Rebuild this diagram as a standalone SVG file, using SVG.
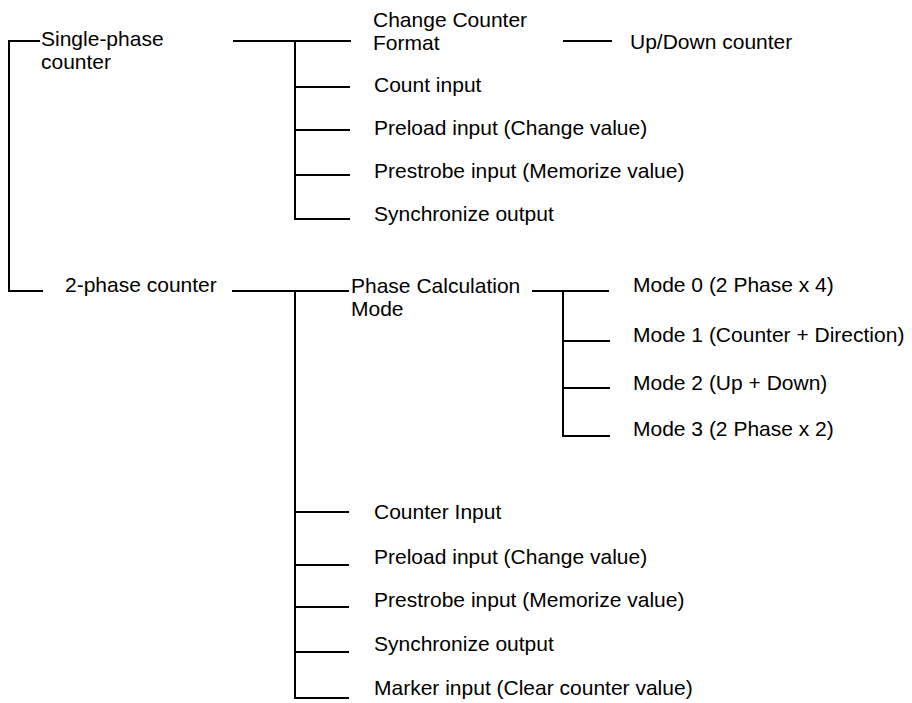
<svg xmlns="http://www.w3.org/2000/svg" width="912" height="703" viewBox="0 0 912 703">
<style>
.t{font-family:"Liberation Sans",Arial,sans-serif;font-size:21px;fill:#000}
.c line{stroke:#000;stroke-width:2;fill:none}
</style>
<rect width="912" height="703" fill="#fff"/>
<g class="c" id="connectors">
<line x1="9" y1="40" x2="9" y2="292"/>
<line x1="8" y1="41" x2="40" y2="41"/>
<line x1="8" y1="291" x2="43" y2="291"/>
<line x1="233" y1="41" x2="351" y2="41"/>
<line x1="295" y1="40" x2="295" y2="220"/>
<line x1="295" y1="87" x2="350" y2="87"/>
<line x1="295" y1="130" x2="350" y2="130"/>
<line x1="295" y1="175" x2="350" y2="175"/>
<line x1="294" y1="219" x2="350" y2="219"/>
<line x1="563" y1="41" x2="612" y2="41"/>
<line x1="232" y1="291" x2="349" y2="291"/>
<line x1="295" y1="290" x2="295" y2="699"/>
<line x1="295" y1="512" x2="349" y2="512"/>
<line x1="295" y1="565" x2="349" y2="565"/>
<line x1="295" y1="607" x2="349" y2="607"/>
<line x1="295" y1="652" x2="349" y2="652"/>
<line x1="294" y1="698" x2="349" y2="698"/>
<line x1="532" y1="291" x2="609" y2="291"/>
<line x1="563" y1="290" x2="563" y2="437"/>
<line x1="563" y1="341" x2="610" y2="341"/>
<line x1="563" y1="388" x2="610" y2="388"/>
<line x1="562" y1="436" x2="610" y2="436"/>
</g>
<g id="single-phase"><text class="t" x="41" y="46">Single-phase</text><text class="t" x="41" y="69">counter</text></g>
<g id="change-format"><text class="t" x="373" y="27">Change Counter</text><text class="t" x="373" y="50">Format</text></g>
<g id="updown"><text class="t" x="630" y="49">Up/Down counter</text></g>
<g id="count-input"><text class="t" x="374" y="92">Count input</text></g>
<g id="preload1"><text class="t" x="374" y="135">Preload input (Change value)</text></g>
<g id="prestrobe1"><text class="t" x="374" y="178">Prestrobe input (Memorize value)</text></g>
<g id="sync1"><text class="t" x="374" y="221">Synchronize output</text></g>
<g id="two-phase"><text class="t" x="65" y="292">2-phase counter</text></g>
<g id="phase-calc"><text class="t" x="351" y="293">Phase Calculation</text><text class="t" x="351" y="316">Mode</text></g>
<g id="mode0"><text class="t" x="633" y="292">Mode 0 (2 Phase x 4)</text></g>
<g id="mode1"><text class="t" x="633" y="342">Mode 1 (Counter + Direction)</text></g>
<g id="mode2"><text class="t" x="633" y="390">Mode 2 (Up + Down)</text></g>
<g id="mode3"><text class="t" x="633" y="436">Mode 3 (2 Phase x 2)</text></g>
<g id="counter-input"><text class="t" x="374" y="519">Counter Input</text></g>
<g id="preload2"><text class="t" x="374" y="564">Preload input (Change value)</text></g>
<g id="prestrobe2"><text class="t" x="374" y="607">Prestrobe input (Memorize value)</text></g>
<g id="sync2"><text class="t" x="374" y="651">Synchronize output</text></g>
<g id="marker"><text class="t" x="374" y="695">Marker input (Clear counter value)</text></g>
</svg>
